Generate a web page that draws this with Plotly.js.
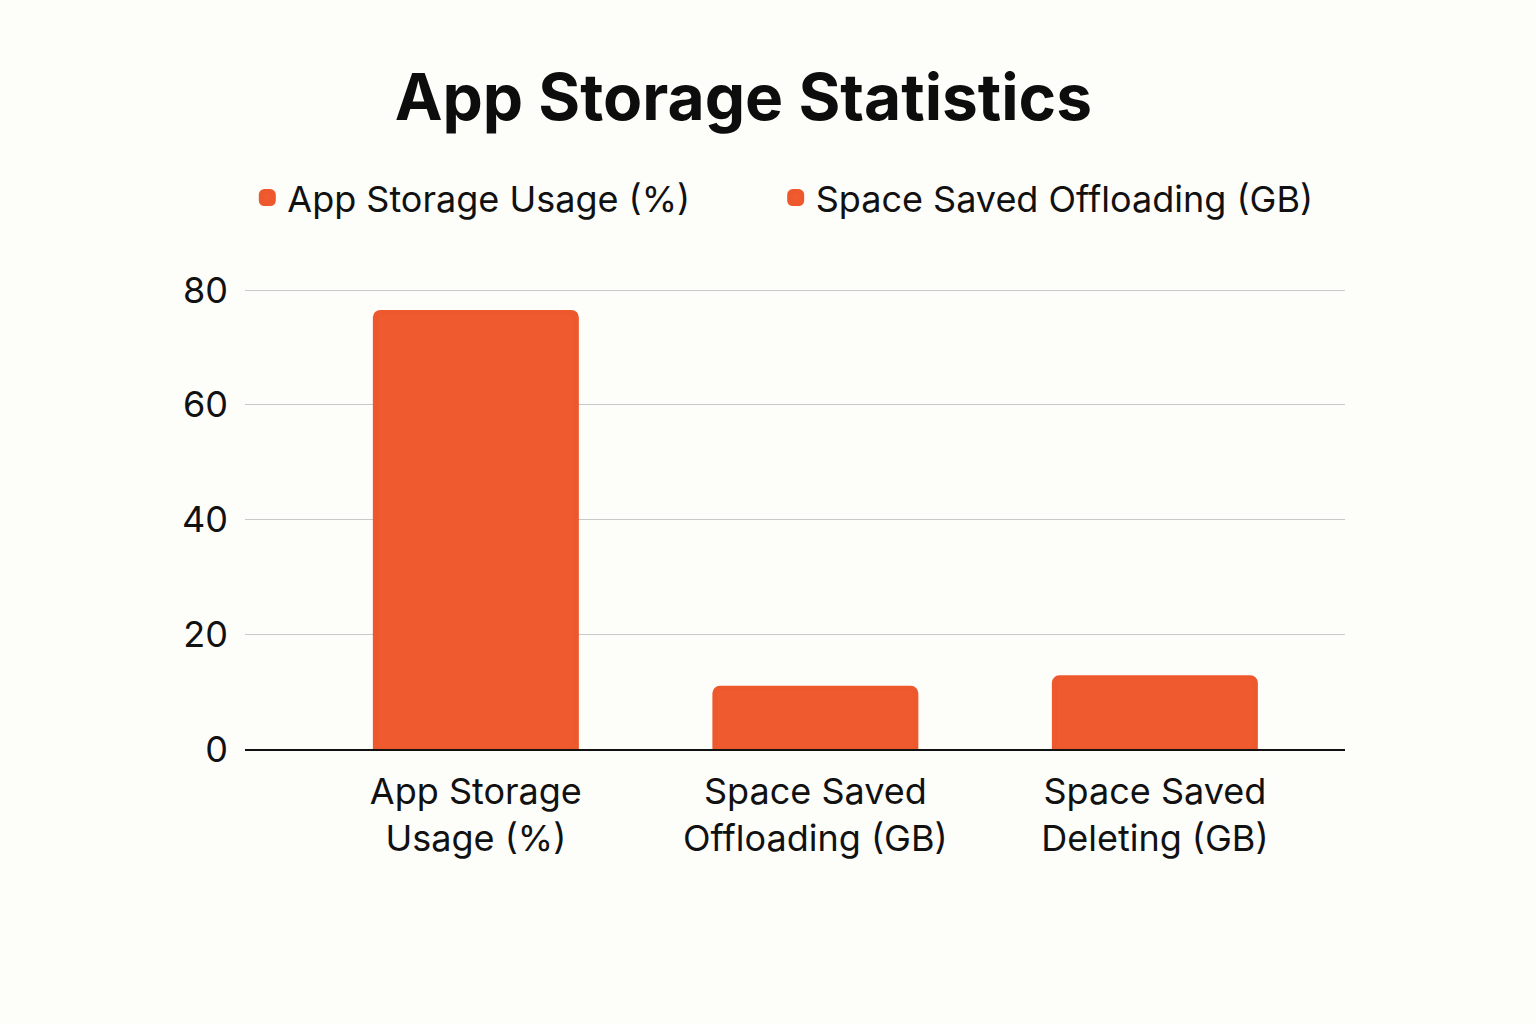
<!DOCTYPE html>
<html>
<head>
<meta charset="utf-8">
<script src="https://cdn.plot.ly/plotly-3.0.1.min.js"></script>
<style>
  html, body { margin: 0; padding: 0; background: #FDFDFA; }
  #chart { width: 1536px; height: 1024px; }
</style>
</head>
<body>
<div id="chart"></div>
<script>
// ---- data ----
const categories = [
  "App Storage<br>Usage (%)",
  "Space Saved<br>Offloading (GB)",
  "Space Saved<br>Deleting (GB)"
];
const seriesNames = ["App Storage Usage (%)", "Space Saved Offloading (GB)"];
const usageValues = [76.1, null, null];
const savedValues = [null, 10.6, 12.4];
const yTickVals = [0, 20, 40, 60, 80];
const yTickText = ["0", "20", "40", "60", "80"];

const barColor = "#EF5A2F";
const font = "Inter, 'Noto Sans', sans-serif";

const traces = [
  {
    type: "bar", name: seriesNames[0], x: categories, y: usageValues,
    width: 0.592, legend: "legend",
    marker: { color: barColor, line: { color: "#EE582D", width: 5 } },
    hoverinfo: "x+y"
  },
  {
    type: "bar", name: seriesNames[1], x: categories, y: savedValues,
    width: 0.592, legend: "legend2",
    marker: { color: barColor, line: { color: "#EE582D", width: 5 } },
    hoverinfo: "x+y"
  }
];

const legendBase = {
  orientation: "h",
  xref: "container", xanchor: "left",
  y: 0.807, yref: "container", yanchor: "middle",
  font: { family: font, size: 36, color: "#111111" },
  bgcolor: "rgba(0,0,0,0)",
  itemwidth: 30
};

const layout = {
  width: 1536, height: 1024,
  paper_bgcolor: "#FDFDFA", plot_bgcolor: "#FDFDFA",
  font: { family: font, color: "#111111", size: 34 },
  margin: { l: 245, r: 191, t: 288, b: 275, pad: 0 },
  barmode: "overlay",
  barcornerradius: 5,
  title: {
    text: "<b>App Storage Statistics</b>",
    font: { family: font, size: 64, color: "#0d0d0d" },
    xref: "container", yref: "container",
    x: 0.484, xanchor: "center", y: 0.905, yanchor: "middle"
  },
  showlegend: true,
  legend: Object.assign({}, legendBase, { x: 0.161 }),
  legend2: Object.assign({}, legendBase, { x: 0.505 }),
  xaxis: {
    type: "category",
    range: [-0.68, 2.56],
    showgrid: false, zeroline: false,
    showline: true, linecolor: "#111111", linewidth: 2,
    ticks: "", ticklabelstandoff: 10,
    tickfont: { family: font, size: 36, color: "#111111" },
    fixedrange: true
  },
  yaxis: {
    range: [0, 80.35],
    tickvals: yTickVals, ticktext: yTickText,
    showgrid: true, gridcolor: "#C9C9C9", gridwidth: 1,
    zeroline: false, showline: false,
    ticks: "", ticklabelstandoff: 16,
    tickfont: { family: font, size: 36, color: "#111111" },
    fixedrange: true
  }
};

Plotly.newPlot("chart", traces, layout, { displayModeBar: false, staticPlot: true });
</script>
</body>
</html>
